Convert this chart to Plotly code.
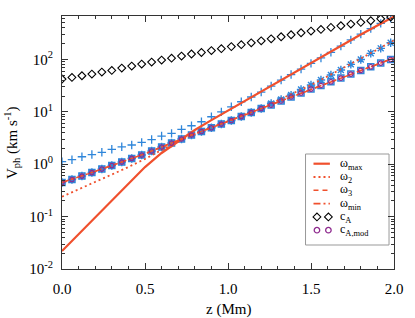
import plotly.graph_objects as go

# ---------------- data ----------------
z_markers = [0.00, 0.06, 0.12, 0.18, 0.24, 0.30, 0.36, 0.42, 0.48, 0.54,
             0.60, 0.66, 0.72, 0.78, 0.84, 0.90, 0.96, 1.02, 1.08, 1.14,
             1.20, 1.26, 1.32, 1.38, 1.44, 1.50, 1.56, 1.62, 1.68, 1.74,
             1.80, 1.86, 1.92, 1.98]
z_line = [0.0, 0.1, 0.2, 0.3, 0.4, 0.5, 0.6, 0.7, 0.8, 0.9, 1.0,
          1.1, 1.2, 1.3, 1.4, 1.5, 1.6, 1.7, 1.8, 1.9, 2.0]

omega_max = [0.0221, 0.0466, 0.0983, 0.207, 0.438, 0.884, 1.64, 2.77, 4.50, 6.97, 10.6,
             15.7, 23.9, 36.3, 56.2, 85.4, 130, 197, 299, 444, 659]
omega_2 = [0.240, 0.329, 0.457, 0.636, 0.884, 1.26, 1.87, 2.77, 3.77, 5.02, 6.50,
           8.88, 11.7, 16.6, 23.4, 32.5, 47.6, 69.8, 103, 155, 232]
omega_3 = [0.448, 0.565, 0.732, 0.945, 1.22, 1.59, 2.13, 2.87, 3.82, 5.00, 6.53,
           8.69, 11.6, 15.3, 20.5, 27.5, 35.8, 47.4, 62.5, 81.7, 107]
omega_min = [0.448, 0.565, 0.732, 0.945, 1.22, 1.59, 2.13, 2.87, 3.82, 5.00, 6.53,
             8.69, 11.6, 15.3, 20.5, 27.5, 35.8, 47.4, 62.5, 81.7, 107]

c_A = [42.3, 45.5, 48.9, 52.6, 57.5, 61.9, 68.5, 74.8, 81.6, 89.2,
       97.4, 106, 116, 127, 136, 148, 161, 176, 192, 208,
       227, 248, 271, 296, 323, 348, 375, 410, 440, 474,
       511, 550, 597, 645]
c_A_mod = [0.448, 0.511, 0.595, 0.694, 0.810, 0.945, 1.10, 1.29, 1.50, 1.79,
           2.13, 2.54, 3.03, 3.61, 4.21, 4.97, 5.85, 6.82, 8.13, 9.69,
           11.6, 13.5, 16.1, 19.2, 22.9, 27.2, 31.8, 37.5, 44.2, 52.6,
           61.9, 72.6, 85.4, 100]

num_plus = [1.12, 1.22, 1.39, 1.53, 1.69, 1.93, 2.15, 2.33, 2.62, 2.96,
            3.45, 3.89, 4.63, 5.43, 6.47, 8.06, 10.0, 12.5, 15.6, 19.2,
            23.9, 31.1, 40.5, 51.5, 65.6, 84.3, 107, 137, 180, 237,
            305, 389, 489, 609]
num_star = [0.448, 0.511, 0.595, 0.694, 0.810, 0.945, 1.10, 1.29, 1.50, 1.79,
            2.13, 2.54, 3.03, 3.61, 4.21, 4.97, 5.85, 6.82, 8.13, 9.69,
            11.6, 14.5, 17.3, 20.9, 26.7, 32.5, 40.5, 50.4, 62.8, 80.6,
            100, 131, 163, 208]
num_square = [0.448, 0.511, 0.595, 0.694, 0.810, 0.945, 1.10, 1.29, 1.50, 1.79,
              2.13, 2.54, 3.03, 3.61, 4.21, 4.97, 5.85, 6.82, 8.13, 9.69,
              11.6, 13.5, 16.1, 19.2, 22.9, 27.2, 31.8, 37.5, 44.2, 52.6,
              61.9, 72.6, 85.4, 100]

x_tickvals = [0.0, 0.5, 1.0, 1.5, 2.0]
x_ticktext = ["0.0", "0.5", "1.0", "1.5", "2.0"]
y_tickvals = [0.01, 0.1, 1, 10, 100]
y_ticktext = ["10<sup>-2</sup>", "10<sup>-1</sup>", "10<sup>0</sup>",
              "10<sup>1</sup>", "10<sup>2</sup>"]
y_minor = [m * d for d in (0.01, 0.1, 1, 10, 100) for m in range(2, 10)]

legend_labels = ["ω<sub>max</sub>", "ω<sub>2</sub>", "ω<sub>3</sub>",
                 "ω<sub>min</sub>", "c<sub>A</sub>", "c<sub>A,mod</sub>"]

# ---------------- style ----------------
RED = "#f0502d"
BLUE = "#2f86da"
PURPLE = "#8e2a8e"
FRAME = "#333333"
FONT = "Liberation Serif, Times New Roman, Times, DejaVu Serif, serif"

fig = go.Figure()

# numerical (blue) markers
fig.add_trace(go.Scatter(x=z_markers, y=num_square, mode="markers",
                         marker=dict(symbol="square-open", size=6, color=BLUE,
                                     line=dict(width=1.5, color=BLUE)), showlegend=False))
fig.add_trace(go.Scatter(x=z_markers, y=num_star, mode="markers",
                         marker=dict(symbol="asterisk-open", size=7, color=BLUE,
                                     line=dict(width=1.4, color=BLUE)), showlegend=False))
fig.add_trace(go.Scatter(x=z_markers, y=num_plus, mode="markers",
                         marker=dict(symbol="cross-thin-open", size=6, color=BLUE,
                                     line=dict(width=1.3, color=BLUE)), showlegend=False))

# analytic (red) curves
fig.add_trace(go.Scatter(x=z_line, y=omega_min, mode="lines",
                         line=dict(color=RED, width=1.6, dash="7px,3px,2px,3px"), showlegend=False))
fig.add_trace(go.Scatter(x=z_line, y=omega_3, mode="lines",
                         line=dict(color=RED, width=1.6, dash="5px,4px"), showlegend=False))
fig.add_trace(go.Scatter(x=z_line, y=omega_2, mode="lines",
                         line=dict(color=RED, width=1.8, dash="2px,3px"), showlegend=False))
fig.add_trace(go.Scatter(x=z_line, y=omega_max, mode="lines",
                         line=dict(color=RED, width=2.2), showlegend=False))

# Alfven speeds
fig.add_trace(go.Scatter(x=z_markers, y=c_A_mod, mode="markers",
                         marker=dict(symbol="circle-open", size=4.5, color=PURPLE,
                                     line=dict(width=1.2, color=PURPLE)), showlegend=False))
fig.add_trace(go.Scatter(x=z_markers, y=c_A, mode="markers",
                         marker=dict(symbol="diamond-open", size=6, color="black",
                                     line=dict(width=1.1, color="black")), showlegend=False))

# ---------------- hand-drawn legend (pixel space overlay axes) ----------------
leg_box = dict(x0=307, x1=391, y0=154, y1=245)
leg_row0, leg_dy = 163.7, 13.3
leg_line_x = [315, 331.5]
leg_sym_x = [318.5, 330]
leg_text_x = 339.5
leg_styles = [
    dict(mode="lines", line=dict(color=RED, width=2.2)),
    dict(mode="lines", line=dict(color=RED, width=1.8, dash="2px,3px")),
    dict(mode="lines", line=dict(color=RED, width=1.6, dash="5px,4px")),
    dict(mode="lines", line=dict(color=RED, width=1.6, dash="7px,3px,2px,3px")),
    dict(mode="markers", marker=dict(symbol="diamond-open", size=6, color="black",
                                     line=dict(width=1.1, color="black"))),
    dict(mode="markers", marker=dict(symbol="circle-open", size=5.5, color=PURPLE,
                                     line=dict(width=1.3, color=PURPLE))),
]
annotations = []
for i, (lab, st) in enumerate(zip(legend_labels, leg_styles)):
    yy = leg_row0 + i * leg_dy
    xs = leg_line_x if st["mode"] == "lines" else leg_sym_x
    fig.add_trace(go.Scatter(x=xs, y=[yy, yy], xaxis="x2", yaxis="y2",
                             showlegend=False, hoverinfo="skip", **st))
    annotations.append(dict(x=leg_text_x, y=yy, xref="x2", yref="y2", text=lab,
                            showarrow=False, xanchor="left", yanchor="middle",
                            font=dict(family=FONT, size=12, color="black")))

annotations.append(dict(x=0.5, y=-0.162, xref="paper", yref="paper", text="z (Mm)",
                        showarrow=False, xanchor="center", yanchor="middle",
                        font=dict(family=FONT, size=15, color="black")))
annotations.append(dict(x=-0.152, y=0.5, xref="paper", yref="paper",
                        text="V<sub>ph</sub> (km s<sup>-1</sup>)", textangle=-90,
                        showarrow=False, xanchor="center", yanchor="middle",
                        font=dict(family=FONT, size=15, color="black")))

fig.update_layout(
    width=415, height=318,
    margin=dict(l=62, r=19, t=16, b=49),
    paper_bgcolor="white", plot_bgcolor="white",
    showlegend=False,
    font=dict(family=FONT, size=15, color="black"),
    xaxis=dict(range=[0, 2.0], showgrid=False, zeroline=False,
               showline=True, linecolor=FRAME, linewidth=1, mirror="ticks",
               ticks="inside", ticklen=6, tickcolor=FRAME,
               tickvals=x_tickvals, ticktext=x_ticktext, ticklabelstandoff=6,
               tickfont=dict(family=FONT, size=15),
               minor=dict(ticks="inside", ticklen=3, dtick=0.1, tick0=0,
                          tickcolor=FRAME, showgrid=False)),
    yaxis=dict(type="log", range=[-2, 2.83], showgrid=False, zeroline=False,
               showline=True, linecolor=FRAME, linewidth=1, mirror="ticks",
               ticks="inside", ticklen=6, tickcolor=FRAME,
               tickvals=y_tickvals, ticktext=y_ticktext, ticklabelstandoff=5,
               tickfont=dict(family=FONT, size=15),
               minor=dict(ticks="inside", ticklen=3, tickvals=y_minor,
                          tickcolor=FRAME, showgrid=False)),
    xaxis2=dict(overlaying="x", anchor="y2", range=[62, 396], visible=False,
                showgrid=False, zeroline=False),
    yaxis2=dict(overlaying="y", anchor="x2", range=[269, 16], visible=False,
                showgrid=False, zeroline=False),
    shapes=[dict(type="rect", xref="x2", yref="y2", layer="below",
                 x0=leg_box["x0"], x1=leg_box["x1"], y0=leg_box["y0"], y1=leg_box["y1"],
                 line=dict(color="#999999", width=1), fillcolor="white")],
    annotations=annotations,
)

# remove the default 8px page margin so the figure sits at the window's corner
fig.write_html("out.html", config={"displayModeBar": False, "staticPlot": True},
               post_script="document.body.style.margin='0px';")
